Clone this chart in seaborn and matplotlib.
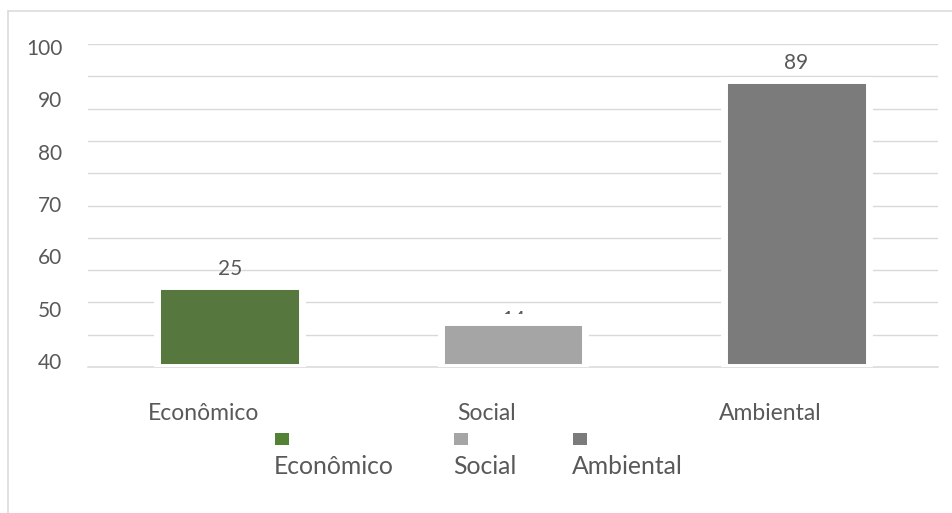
import matplotlib
matplotlib.use("Agg")
import matplotlib.pyplot as plt
import matplotlib.transforms as mtransforms
from matplotlib.patches import Rectangle
from matplotlib.lines import Line2D
import seaborn as sns
import pandas as pd

categories = ["Econômico", "Social", "Ambiental"]
values = [25, 14, 89]
colors = ["#548235", "#A5A5A5", "#7B7B7B"]
ytick_labels = [100, 90, 80, 70, 60, 50, 40]

sns.set_style("white")
plt.rcParams["font.family"] = ["Lato", "DejaVu Sans"]
TXT = "#595959"
GRID = "#D9D9D9"

W, H = 953, 513
fig = plt.figure(figsize=(W / 100, H / 100), dpi=100)
ax = fig.add_axes([88 / W, 1 - 367 / H, (938 - 88) / W, (367 - 44) / H])

df = pd.DataFrame({"cat": categories, "val": values})
sns.barplot(data=df, x="cat", y="val", hue="cat", palette=colors, legend=False,
            width=0.51, edgecolor="white", linewidth=5.0, ax=ax, zorder=3)

ax.set_ylim(0, 100)
ax.set_xlim(-0.5, 2.5)
ax.set_yticks(range(0, 101, 10))
ax.yaxis.grid(True, color=GRID, linewidth=1.0, zorder=0)
ax.set_axisbelow(True)
for s in ["top", "right", "left"]:
    ax.spines[s].set_visible(False)
ax.spines["bottom"].set_color(GRID)
ax.spines["bottom"].set_linewidth(1.1)
ax.set_xlabel("")
ax.set_ylabel("")

# category ticks at boundaries
ax.set_xticks([-0.5, 0.5, 1.5, 2.5], minor=True)
ax.tick_params(axis="x", which="minor", length=4, width=1.1, color=GRID, direction="out")
ax.tick_params(axis="x", which="major", length=0, pad=26, labelsize=16.5, labelcolor=TXT)
shift = mtransforms.ScaledTranslation(-26 / 100, 0, fig.dpi_scale_trans)
for lab in ax.get_xticklabels():
    lab.set_transform(lab.get_transform() + shift)

# value labels
for i, v in enumerate(values):
    if v == 14:
        t = ax.annotate(str(v), xy=(i, v), xytext=(0, 8.5), textcoords="offset points",
                        ha="center", va="top", fontsize=15, color=TXT, zorder=5)
        clip = mtransforms.TransformedBbox(
            mtransforms.Bbox([[0, (367 - 314) / 323], [1, 1]]), ax.transAxes)
        t.set_clip_box(clip)
        t.set_clip_on(True)
    else:
        ax.annotate(str(v), xy=(i, v), xytext=(0, 5.0), textcoords="offset points",
                    ha="center", va="bottom", fontsize=15, color=TXT, zorder=5)

# left-side labels (independent scale)
ax2 = ax.twinx()
ax2.set_ylim(38.86, 100.535)
ax2.set_yticks(ytick_labels)
ax2.set_yticklabels([str(v) for v in ytick_labels])
ax2.yaxis.set_ticks_position("left")
ax2.tick_params(axis="y", length=0, pad=18.5, labelsize=15, labelcolor=TXT)
for s in ax2.spines.values():
    s.set_visible(False)
ax2.grid(False)
ax.tick_params(axis="y", left=False, right=False, labelleft=False, labelright=False)

# legend (marker above text)
leg_x = [275, 454, 573]
for x, c, name in zip(leg_x, colors, categories):
    fig.patches.append(Rectangle((x / W, 1 - 445 / H), 14 / W, 12 / H,
                                 transform=fig.transFigure, facecolor=c, edgecolor="none"))
    fig.text(x / W - 1 / W, 1 - 474 / H, name, ha="left", va="baseline",
             fontsize=17.8, color=TXT)

# outer frame
fig.lines.append(Line2D([8 / W, 1], [1 - 11 / H, 1 - 11 / H], transform=fig.transFigure,
                        color=GRID, linewidth=1.1))
fig.lines.append(Line2D([8 / W, 8 / W], [0, 1 - 11 / H], transform=fig.transFigure,
                        color=GRID, linewidth=1.1))

fig.savefig("out.png", dpi=100)
